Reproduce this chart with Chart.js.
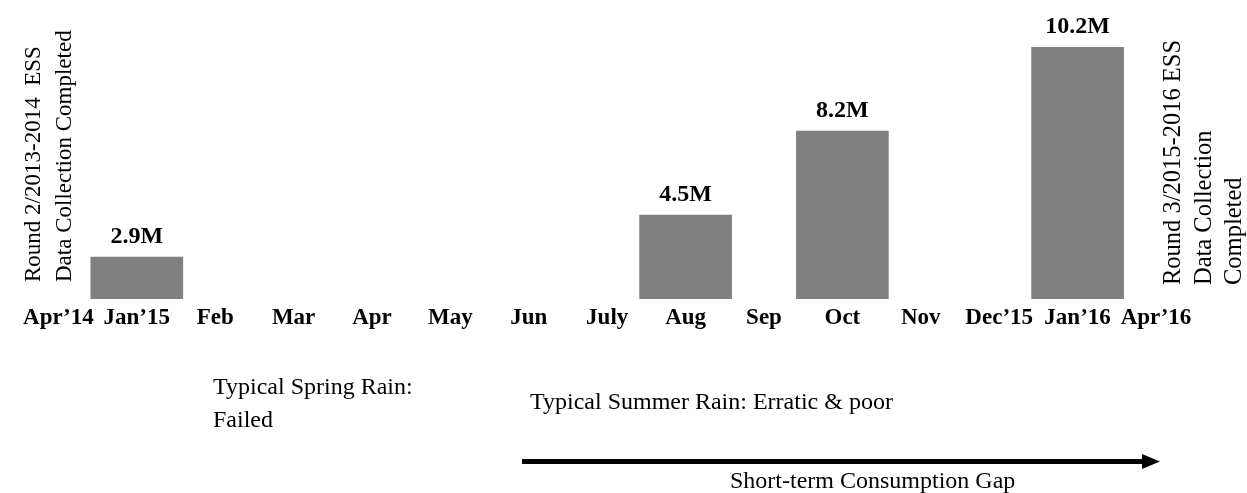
<!DOCTYPE html>
<html>
<head>
<meta charset="utf-8">
<script src="https://cdn.jsdelivr.net/npm/chart.js@4.4.1/dist/chart.umd.min.js"></script>
<style>
  html, body { margin: 0; padding: 0; background: #ffffff; }
  #wrap { position: relative; width: 1247px; height: 493px; }
</style>
</head>
<body>
<div id="wrap"><canvas id="c"></canvas></div>
<script>
// ---- data ----
const categories = ["Apr\u201914", "Jan\u201915", "Feb", "Mar", "Apr", "May", "Jun", "July",
                    "Aug", "Sep", "Oct", "Nov", "Dec\u201915", "Jan\u201916", "Apr\u201916"];
// bar heights as drawn in the picture (relative scale, Jan'16 = 10.2)
const barHeights = [null, 1.7, null, null, null, null, null, null,
                    3.4, null, 6.8, null, null, 10.2, null];
// printed value labels (millions)
const valueLabels = [null, 2.9, null, null, null, null, null, null,
                     4.5, null, 8.2, null, null, 10.2, null];
const leftNote = ["Round 2/2013-2014  ESS", "Data Collection Completed"];
const rightNote = ["Round 3/2015-2016 ESS", "Data Collection", "Completed"];
const springNote = ["Typical Spring Rain:", "Failed"];
const summerNote = "Typical Summer Rain: Erratic & poor";
const gapNote = "Short-term Consumption Gap";

const SERIF = '"Liberation Serif", "Times New Roman", serif';

const annotations = {
  id: 'annotations',
  afterDatasetsDraw(chart) {
    const ctx = chart.ctx;
    ctx.save();
    ctx.fillStyle = '#000';
    // value labels above bars
    const meta = chart.getDatasetMeta(0);
    ctx.font = 'bold 24px ' + SERIF;
    ctx.textAlign = 'center';
    ctx.textBaseline = 'alphabetic';
    meta.data.forEach((bar, i) => {
      if (valueLabels[i] == null) return;
      ctx.fillText(valueLabels[i] + 'M', bar.x, bar.y - 14);
    });

    // rotated notes
    ctx.textAlign = 'left';
    ctx.font = '23px ' + SERIF;
    const leftBase = [40, 71];
    leftNote.forEach((t, k) => {
      ctx.save();
      ctx.translate(leftBase[k], 282);
      ctx.rotate(-Math.PI / 2);
      ctx.fillText(t, 0, 0);
      ctx.restore();
    });
    ctx.font = '24.5px ' + SERIF;
    const rightBase = [1180, 1211, 1241];
    rightNote.forEach((t, k) => {
      ctx.save();
      ctx.translate(rightBase[k], 285);
      ctx.rotate(-Math.PI / 2);
      ctx.fillText(t, 0, 0);
      ctx.restore();
    });

    // bottom notes
    ctx.font = '24px ' + SERIF;
    ctx.fillText(springNote[0], 213, 394);
    ctx.fillText(springNote[1], 213, 427);
    ctx.fillText(summerNote, 530, 409);
    ctx.fillText(gapNote, 730, 488);

    // arrow
    ctx.fillRect(522, 459, 622, 5);
    ctx.beginPath();
    ctx.moveTo(1142, 454);
    ctx.lineTo(1160, 461.5);
    ctx.lineTo(1142, 469);
    ctx.closePath();
    ctx.fill();
    ctx.restore();
  }
};

new Chart(document.getElementById('c'), {
  type: 'bar',
  data: {
    labels: categories,
    datasets: [{
      data: barHeights,
      backgroundColor: '#808080',
      borderWidth: 0,
      barThickness: 92
    }]
  },
  options: {
    responsive: true,
    maintainAspectRatio: false,
    animation: false,
    events: [],
    layout: { padding: { top: 47, left: 19.2, right: 51.8, bottom: 156.4 } },
    plugins: { legend: { display: false }, tooltip: { enabled: false }, title: { display: false } },
    scales: {
      x: {
        offset: true,
        grid: { display: false, drawTicks: false },
        border: { display: false },
        ticks: {
          autoSkip: false, maxRotation: 0, minRotation: 0, padding: 5,
          color: '#000',
          font: { family: SERIF, size: 23, weight: 'bold' }
        }
      },
      y: {
        display: false,
        min: 0,
        max: 10.2
      }
    }
  },
  plugins: [annotations]
});
</script>
</body>
</html>
